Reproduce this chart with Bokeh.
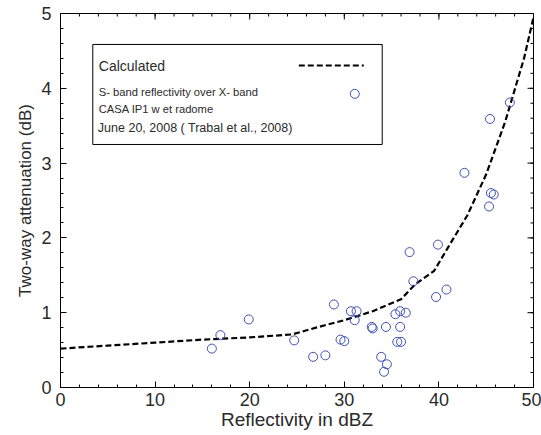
import math
from bokeh.plotting import figure
from bokeh.models import (ColumnDataSource, SingleIntervalTicker, Range1d,
                          BoxAnnotation, Label, Arrow)
from bokeh.embed import file_html
from bokeh.resources import INLINE

# Calculated curve (dashed)
calc_x = [0, 5, 10, 15, 20, 24.5, 27, 30, 33, 36, 37.5, 39.5, 41, 43, 45, 47, 49, 50]
calc_y = [0.52, 0.56, 0.60, 0.64, 0.67, 0.71, 0.80, 0.90, 1.02, 1.18, 1.38, 1.56, 1.88, 2.30, 2.85, 3.55, 4.40, 4.95]

# Observed points
obs_x = [16.0, 16.9, 19.9, 24.7, 26.7, 28.0, 28.9, 29.6, 30.0, 30.7, 31.3, 31.1, 32.9, 33.0,
         34.4, 33.9, 34.5, 34.2, 35.4, 35.9, 36.5, 35.9, 35.6, 36.0, 36.9, 37.3, 39.7, 39.9,
         40.8, 45.3, 47.5, 45.4, 42.7, 45.5, 45.8]
obs_y = [0.52, 0.70, 0.91, 0.63, 0.41, 0.43, 1.11, 0.64, 0.62, 1.02, 1.02, 0.90, 0.81, 0.79,
         0.81, 0.41, 0.31, 0.21, 0.98, 1.02, 1.00, 0.81, 0.61, 0.61, 1.81, 1.42, 1.21, 1.91,
         1.31, 2.42, 3.81, 3.59, 2.87, 2.60, 2.58]

x_title = "Reflectivity in dBZ"
y_title = "Two-way attenuation (dB)"
legend_lines = ["Calculated", "S- band reflectivity over X- band", "CASA IP1 w et radome",
                "June 20, 2008 (  Trabal et al., 2008)"]

X_MIN, X_MAX, X_MAJOR, X_MINOR = 0, 50, 10, 2
Y_MIN, Y_MAX, Y_MAJOR, Y_MINOR = 0, 5, 1, 0.2

FONT = "Liberation Sans"
TXT = "#2a2a2a"
BLUE = "#3d4fb8"

p = figure(frame_width=473, frame_height=374, output_backend="svg", toolbar_location=None,
           x_range=Range1d(X_MIN, X_MAX), y_range=Range1d(Y_MIN, Y_MAX),
           min_border_left=60, min_border_right=8, min_border_top=13, min_border_bottom=48)
p.grid.visible = False
p.outline_line_color = "black"
p.outline_line_width = 1
p.background_fill_color = "white"
p.border_fill_color = "white"

p.xaxis.ticker = SingleIntervalTicker(interval=X_MAJOR, num_minor_ticks=int(X_MAJOR / X_MINOR))
p.yaxis.ticker = SingleIntervalTicker(interval=Y_MAJOR, num_minor_ticks=int(round(Y_MAJOR / Y_MINOR)))
p.xaxis.axis_label = x_title
p.yaxis.axis_label = y_title
for ax in p.xaxis + p.yaxis:
    ax.major_tick_in = 6
    ax.major_tick_out = 0
    ax.minor_tick_in = 3
    ax.minor_tick_out = 0
    ax.major_tick_line_color = "black"
    ax.minor_tick_line_color = "black"
    ax.axis_line_color = "black"
    ax.major_label_text_font = FONT
    ax.major_label_text_color = TXT
    ax.major_label_text_font_size = "18px"
    ax.axis_label_text_font = FONT
    ax.axis_label_text_color = TXT
    ax.axis_label_text_font_style = "normal"
p.xaxis.axis_label_text_font_size = "19px"
p.yaxis.axis_label_text_font_size = "17px"
p.xaxis.major_label_standoff = 5
p.xaxis.axis_label_standoff = 0
p.yaxis.major_label_standoff = 9
p.yaxis.axis_label_standoff = 3

# mirrored ticks on top and right sides
n_xmin = int(round((X_MAX - X_MIN) / X_MINOR))
n_ymin = int(round((Y_MAX - Y_MIN) / Y_MINOR))
top_minor = [X_MIN + i * X_MINOR for i in range(n_xmin + 1)]
top_major = [v for v in top_minor if abs(v / X_MAJOR - round(v / X_MAJOR)) < 1e-6]
right_minor = [Y_MIN + i * Y_MINOR for i in range(n_ymin + 1)]
right_major = [v for v in right_minor if abs(v / Y_MAJOR - round(v / Y_MAJOR)) < 1e-6]

p.ray(x=top_minor, y=[Y_MAX] * len(top_minor), length=3, length_units="screen",
      angle=-math.pi / 2, line_color="black", line_width=1)
p.ray(x=top_major, y=[Y_MAX] * len(top_major), length=6, length_units="screen",
      angle=-math.pi / 2, line_color="black", line_width=1)
p.ray(x=[X_MAX] * len(right_minor), y=right_minor, length=3, length_units="screen",
      angle=math.pi, line_color="black", line_width=1)
p.ray(x=[X_MAX] * len(right_major), y=right_major, length=6, length_units="screen",
      angle=math.pi, line_color="black", line_width=1)

calc_src = ColumnDataSource(dict(x=calc_x, y=calc_y))
obs_src = ColumnDataSource(dict(x=obs_x, y=obs_y))

p.line("x", "y", source=calc_src, line_color="black", line_width=2.2, line_dash="6 3")
p.scatter("x", "y", source=obs_src, marker="circle", size=9, fill_color=None,
          line_color=BLUE, line_width=1)

# Legend box (drawn manually)
p.add_layout(BoxAnnotation(left=3.414, right=34.01, bottom=3.249, top=4.586,
                           fill_color="white", fill_alpha=1, line_color="black",
                           line_width=1, line_alpha=1))
p.add_layout(Label(x=4.05, y=4.295, text=legend_lines[0], text_font=FONT,
                   text_font_size="14px", text_color=TXT, text_baseline="middle"))
p.add_layout(Label(x=4.04, y=3.944, text=legend_lines[1], text_font=FONT,
                   text_font_size="11.2px", text_color=TXT, text_baseline="middle"))
p.add_layout(Label(x=4.04, y=3.719, text=legend_lines[2], text_font=FONT,
                   text_font_size="11.2px", text_color=TXT, text_baseline="middle"))
p.add_layout(Label(x=3.95, y=3.469, text=legend_lines[3], text_font=FONT,
                   text_font_size="12.5px", text_color=TXT, text_baseline="middle"))
p.add_layout(Arrow(start=None, end=None, x_start=25.19, y_start=4.305, x_end=32.06, y_end=4.305,
                   line_color="black", line_width=2.2, line_dash="6 3"))
p.add_layout(BoxAnnotation(left=30.635, right=31.585, bottom=3.866, top=3.986,
                           border_radius=5, fill_alpha=0, line_color=BLUE,
                           line_width=1, line_alpha=1))

open("out.html", "w").write(file_html(p, INLINE))
